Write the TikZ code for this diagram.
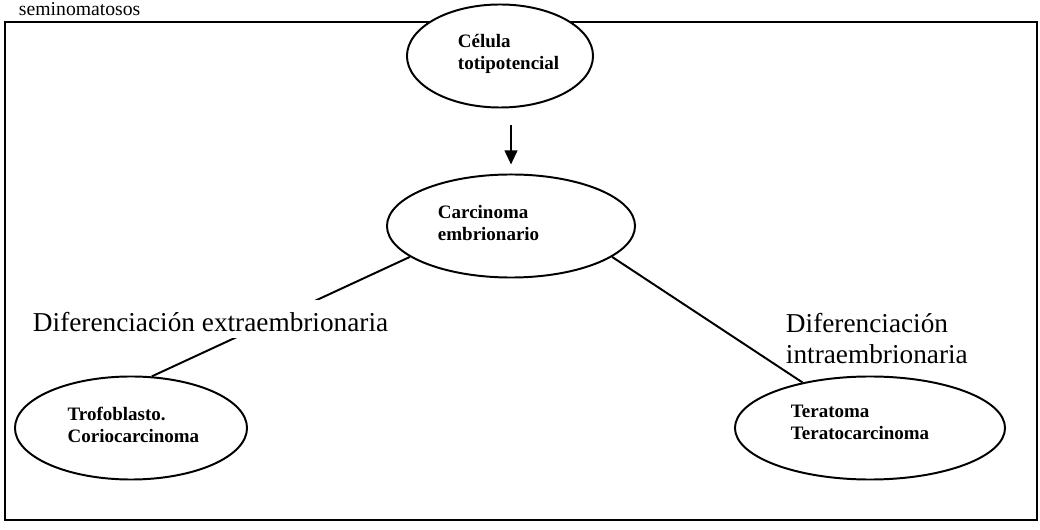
\documentclass[tikz,border=0pt]{standalone}
\usepackage{fontspec}
\setmainfont{Liberation Serif}
\usetikzlibrary{shapes.geometric,arrows.meta}

\begin{document}
\begin{tikzpicture}[x=0.025cm, y=-0.025cm, line width=1.4pt,
		cell/.style={ellipse, draw, fill=white, minimum height=2.575cm, inner sep=0pt},
		celltext/.style={align=left, anchor=west, inner sep=0pt, font=\fontsize{13.5pt}{15.6pt}\selectfont\bfseries},
		branch/.style={align=left, inner sep=0pt, font=\fontsize{19.4pt}{22pt}\selectfont}]
		\useasboundingbox (0,0) rectangle (1040,530);

		\node[anchor=base west, inner sep=0pt, font=\fontsize{14pt}{16pt}\selectfont] (title) at (18,16) {seminomatosos};
		\draw (5,22) rectangle (1037,520);

		\node[cell, minimum width=4.65cm] (cel) at (500,56) {};
		\node[cell, minimum width=6.2cm] (car) at (511,226) {};
		\node[cell, minimum width=5.8cm] (tro) at (131,428) {};
		\node[cell, minimum width=6.75cm] (ter) at (870,428) {};

		\node[celltext] (celt) at (457,53.7) {Célula\\totipotencial};
		\node[celltext] (cart) at (437,222.7) {Carcinoma\\embrionario};
		\node[celltext] (trot) at (66.7,424.8) {Trofoblasto.\\Coriocarcinoma};
		\node[celltext] (tert) at (790,422) {Teratoma\\Teratocarcinoma};

		\draw[-{Triangle[length=10pt, width=9pt]}, shorten <=12pt, shorten >=6.4pt] (cel.south -| car.north) -- (car.north);
		\draw (car.197) -- (tro.68);
		\draw (car.-17) -- (ter.146);

		\node[branch, anchor=base west, fill=white, text height=22.8pt, text depth=4.3pt] (extra) at (32,332) {Diferenciación extraembrionaria};
		\node[branch, anchor=west] (intra) at (785,338.6) {Diferenciación\\intraembrionaria};
	\end{tikzpicture}
\end{document}
